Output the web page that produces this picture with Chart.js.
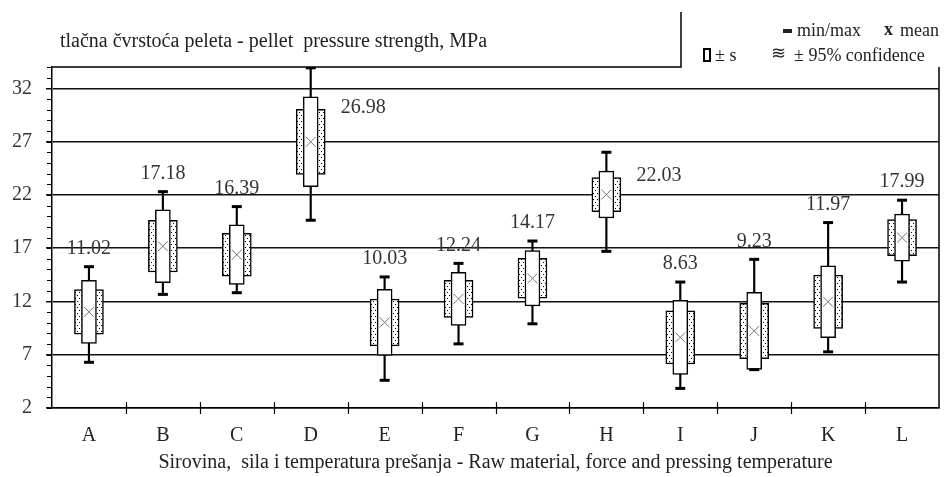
<!DOCTYPE html>
<html><head><meta charset="utf-8">
<script src="https://cdn.jsdelivr.net/npm/chart.js@4.4.0/dist/chart.umd.min.js"></script>
<style>html,body{margin:0;padding:0;background:#fff}</style>
</head><body>
<canvas id="chart" width="947" height="477"></canvas>
<script>
const categories=["A","B","C","D","E","F","G","H","I","J","K","L"];
const means=[11.02,17.18,16.39,26.98,10.03,12.24,14.17,22.03,8.63,9.23,11.97,17.99];
const sds=[2.95,3.42,2.79,4.22,3.1,2.48,2.6,2.2,3.47,3.62,3.36,2.2];
const ci95=[2.1,2.42,2.01,3.05,2.2,1.75,1.87,1.6,2.5,2.6,2.5,1.7];
const mins=[6.29,12.66,12.82,19.62,4.6,8.02,9.9,16.7,3.84,5.6,7.27,13.82];
const maxs=[15.26,22.3,20.9,33.92,14.3,15.57,17.67,26.0,13.82,15.95,19.4,21.5];
const yTicks=[2,7,12,17,22,27,32];
const labelSide=["top","top","top","right","top","top","top","right","top","top","top","top"];
const SERIF="'Liberation Serif','Times New Roman',serif";

function dotPattern(){
    const c=document.createElement("canvas"); c.width=4; c.height=6;
    const g=c.getContext("2d");
    g.fillStyle="#fff"; g.fillRect(0,0,4,6);
    g.fillStyle="#000"; g.fillRect(1,1,1,1); g.fillRect(3,4,1,1);
    return g.createPattern(c,"repeat");
}

const decor={
    id:"decor",
    afterDraw(chart){
        const ctx=chart.ctx, a=chart.chartArea, xs=chart.scales.x, ys=chart.scales.y;
        ctx.save();
        ctx.strokeStyle="#000"; ctx.lineWidth=1.2;
        // minor ticks on y
        ctx.beginPath();
        for(let v=2;v<=34;v++){const y=Math.round(ys.getPixelForValue(v))+0.5; ctx.moveTo(a.left-5,y); ctx.lineTo(a.left,y);}
        // category boundary ticks on x
        const step=(a.right-a.left)/categories.length;
        for(let i=1;i<categories.length;i++){const x=Math.round(a.left+i*step)+0.5; ctx.moveTo(x,a.bottom-6); ctx.lineTo(x,a.bottom+6);}
        ctx.stroke();
        ctx.lineWidth=1.5;
        ctx.beginPath();
        ctx.moveTo(a.right,a.top); ctx.lineTo(a.right,a.bottom);
        ctx.moveTo(a.left,a.top); ctx.lineTo(681,a.top); ctx.lineTo(681,12);
        ctx.stroke();
        // value labels
        ctx.fillStyle="#333"; ctx.font="20px "+SERIF; ctx.textBaseline="middle";
        means.forEach((m,i)=>{
            const x=xs.getPixelForValue(i);
            if(labelSide[i]==="right"){ctx.textAlign="left"; ctx.fillText(m.toFixed(2),x+30,ys.getPixelForValue(m+ci95[i])-2);}
            else{ctx.textAlign="center"; ctx.fillText(m.toFixed(2),x,ys.getPixelForValue(maxs[i])-18);}
        });
        // titles
        ctx.fillStyle="#222"; ctx.textAlign="left";
        ctx.fillText("tlačna čvrstoća peleta - pellet  pressure strength, MPa",60,42);
        ctx.textAlign="center";
        ctx.fillText("Sirovina,  sila i temperatura prešanja - Raw material, force and pressing temperature",(a.left+a.right)/2,463);
        // legend
        ctx.font="18px "+SERIF; ctx.textAlign="left";
        ctx.fillRect(783,29,9,4);
        ctx.fillText("min/max",797,31);
        ctx.font="bold 18px "+SERIF; ctx.fillText("x",884,30);
        ctx.font="18px "+SERIF; ctx.fillText("mean",900,31);
        ctx.lineWidth=2; ctx.strokeRect(704,49,6,12);
        ctx.fillText("± s",715,56);
        ctx.font="18px 'DejaVu Sans'"; ctx.fillText("≋",771,54);
        ctx.font="18px "+SERIF; ctx.fillText("± 95% confidence",794,56);
        ctx.restore();
    }
};

new Chart(document.getElementById("chart"),{
    data:{labels:categories,datasets:[
        {type:"line",data:means,showLine:false,pointStyle:"crossRot",pointRadius:7,borderColor:"#777",borderWidth:1,order:0},
        {type:"line",data:maxs,showLine:false,pointStyle:"line",pointRadius:5,borderColor:"#000",borderWidth:3,order:1},
        {type:"line",data:mins,showLine:false,pointStyle:"line",pointRadius:5,borderColor:"#000",borderWidth:3,order:1},
        {type:"bar",data:means.map((m,i)=>[m-sds[i],m+sds[i]]),barThickness:15,grouped:false,backgroundColor:"#fff",borderColor:"#000",borderWidth:1.5,borderSkipped:false,order:2},
        {type:"bar",data:means.map((m,i)=>[m-ci95[i],m+ci95[i]]),barThickness:29,grouped:false,backgroundColor:dotPattern(),borderColor:"#000",borderWidth:1.5,borderSkipped:false,order:3},
        {type:"bar",data:means.map((m,i)=>[mins[i],maxs[i]]),barThickness:1.5,grouped:false,backgroundColor:"#000",borderWidth:0,order:4}
    ]},
    options:{
        responsive:false,animation:false,devicePixelRatio:1,
        layout:{padding:{top:67,right:1,left:0,bottom:0}},
        plugins:{legend:{display:false},tooltip:{enabled:false}},
        scales:{
            x:{type:"category",offset:true,grid:{display:false},border:{color:"#000",width:1.5},
               ticks:{color:"#222",font:{family:SERIF,size:20},padding:8,maxRotation:0},
               afterFit(s){s.height=69;}},
            y:{min:2,max:34,afterBuildTicks(s){s.ticks=yTicks.map(v=>({value:v}));},
               grid:{color:"#111",lineWidth:1.5,tickLength:6},border:{color:"#000",width:1.5},
               ticks:{color:"#333",font:{family:SERIF,size:20},padding:14},
               afterFit(s){s.width=52;}}
        }
    },
    plugins:[decor]
});
</script>
</body></html>
